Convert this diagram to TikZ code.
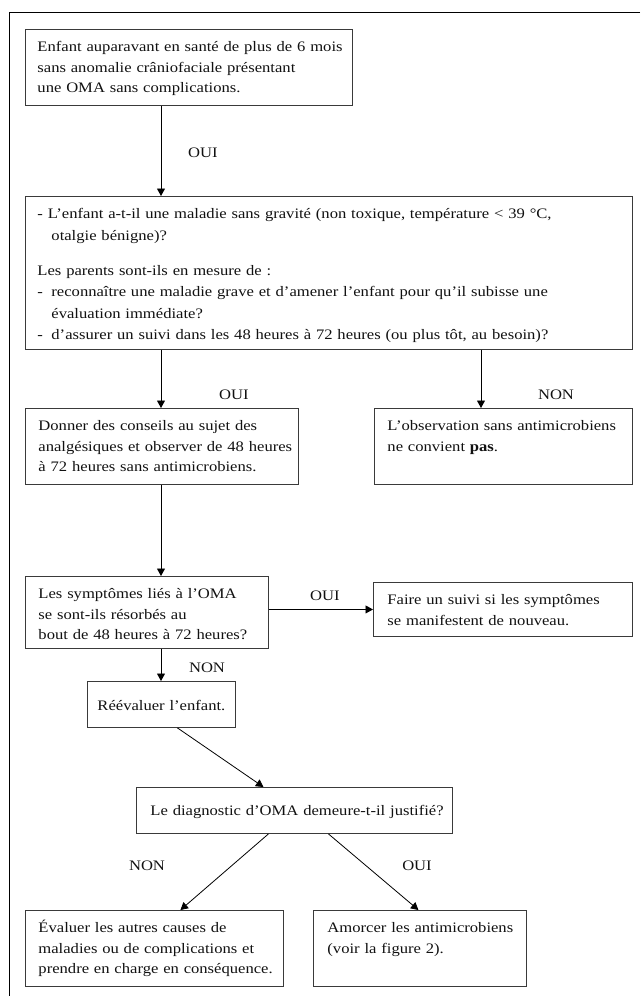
\documentclass[tikz,border=0pt]{standalone}
\usepackage{fontspec}
\setmainfont[FakeStretch=1.145]{Liberation Serif}
\usepackage{xcolor}
\definecolor{Outline}{HTML}{3A3A3A}
\definecolor{Ink}{HTML}{111111}
\usepackage{tikz}
\usetikzlibrary{arrows.meta,positioning,calc}
\newcommand\bodyfont{\fontsize{14.5}{20.3}\selectfont}

\begin{document}
\begin{tikzpicture}[
  x=1pt,y=-1pt,
  box/.style={draw=Outline,line width=0.9pt,anchor=north west,inner xsep=0pt,inner ysep=0pt,align=left,
    text height=22.5pt,font=\bodyfont,text=Ink,execute at begin node={\leftskip=#1}},
  box/.default=13pt,
  lbl/.style={inner sep=0pt,font=\bodyfont,text=Ink},
  frame/.style={draw=black,line width=0.7pt},
  arrow/.style={-{Triangle[length=7.5pt,width=8pt]},draw=black,line width=0.8pt}
]
  \useasboundingbox (0,0) rectangle (640,996);
  \draw[frame] (640,12) -- (9,12) -- (9,996);

  \coordinate (spine) at (161,0);
  \coordinate (nobranch) at (481,0);

  \node[box=12pt,text width=327pt,text depth=53.5pt] (start) at (25,29)
    {Enfant auparavant en santé de plus de 6 mois\\sans anomalie crâniofaciale présentant\\une OMA sans complications.};
  \node[box=12pt,text width=607pt,text depth=130.5pt,font=\fontsize{14.5}{21.5}\selectfont] (questions) at (25,196)
    {- L'enfant a-t-il une maladie sans gravité (non toxique, température < 39 °C,\\
     \hspace*{14pt}otalgie bénigne)?\\[13.5pt]
     Les parents sont-ils en mesure de :\\
     \makebox[14pt][l]{-}reconnaître une maladie grave et d'amener l'enfant pour qu'il subisse une\\
     \hspace*{14pt}évaluation immédiate?\\
     \makebox[14pt][l]{-}d'assurer un suivi dans les 48 heures à 72 heures (ou plus tôt, au besoin)?};

  \node[box,text width=273pt,text depth=53.5pt] (advice) at (25,408)
    {Donner des conseils au sujet des\\analgésiques et observer de 48 heures\\à 72 heures sans antimicrobiens.};
  \node[box,text width=258pt,text depth=53.5pt] (nopas) at (374,408)
    {L'observation sans antimicrobiens\\ne convient \textbf{pas}.};

  \node[box,text width=243pt,text depth=49.5pt] (resolved) at (25,576)
    {Les symptômes liés à l'OMA\\se sont-ils résorbés au\\bout de 48 heures à 72 heures?};
  \node[box=14pt,text width=259pt,text depth=31.5pt] (followup) at (373,582)
    {Faire un suivi si les symptômes\\se manifestent de nouveau.};

  \node[box=10pt,text width=148pt,text height=29pt,text depth=17pt] (reassess) at (87,681)
    {Réévaluer l'enfant.};
  \node[box=14pt,text width=316pt,text height=28pt,text depth=18pt] (diagnosis) at (136,787)
    {Le diagnostic d'OMA demeure-t-il justifié?};

  \node[box,text width=258pt,text depth=53.5pt] (other) at (25,910)
    {Évaluer les autres causes de\\maladies ou de complications et\\prendre en charge en conséquence.};
  \node[box=14pt,text width=213pt,text depth=53.5pt] (antibio) at (313,910)
    {Amorcer les antimicrobiens\\(voir la figure 2).};

  \draw[arrow] (start.south -| spine) -- (questions.north -| spine);
  \draw[arrow] (questions.south -| spine) -- (advice.north -| spine);
  \draw[arrow] (questions.south -| nobranch) -- (nopas.north -| nobranch);
  \draw[arrow] (advice.south -| spine) -- (resolved.north -| spine);
  \draw[arrow] (followup.west -| resolved.east) -- (followup.west);
  \draw[arrow] (resolved.south -| spine) -- (reassess.north -| spine);
  \draw[arrow] ([xshift=16pt]reassess.south) -- ([xshift=-31pt]diagnosis.north);
  \draw[arrow] ([xshift=-26pt]diagnosis.south) -- ([xshift=26pt]other.north);
  \draw[arrow] ([xshift=34pt]diagnosis.south) -- ([xshift=-1.5pt]antibio.north);

  \node[lbl] (oui1) at (203,153) {OUI};
  \node[lbl] (oui2) at (234,395) {OUI};
  \node[lbl] (non1) at (556,395) {NON};
  \node[lbl] (oui3) at (325,596) {OUI};
  \node[lbl] (non2) at (207,668) {NON};
  \node[lbl] (non3) at (147,866) {NON};
  \node[lbl] (oui4) at (417,866) {OUI};
\end{tikzpicture}
\end{document}
